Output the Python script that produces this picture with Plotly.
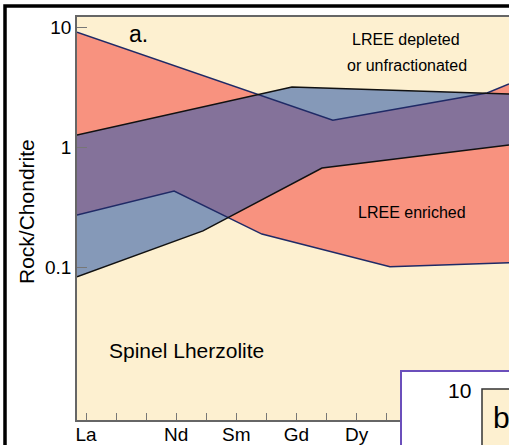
import numpy as np
import plotly.graph_objects as go

# ---- data ----
ree = ["La", "Ce", "Pr", "Nd", "Pm", "Sm", "Eu", "Gd", "Tb", "Dy", "Ho", "Er", "Tm", "Yb", "Lu"]
tick_labels = ["La", "", "", "Nd", "", "Sm", "", "Gd", "", "Dy", "", "", "", "", ""]

# LREE enriched field (red)
enr_upper_x = [-0.3, 8.21, 13.34, 14.07]
enr_upper_y = [9.2, 1.70, 2.86, 3.4]
enr_lower_x = [-0.3, 2.93, 5.85, 10.11, 14.07]
enr_lower_y = [0.275, 0.436, 0.191, 0.102, 0.110]

# LREE depleted / unfractionated field (blue)
dep_upper_x = [-0.3, 6.85, 14.07]
dep_upper_y = [1.28, 3.21, 2.81]
dep_lower_x = [-0.3, 3.03, 3.89, 7.85, 14.07]
dep_lower_y = [0.084, 0.170, 0.203, 0.679, 1.055]

CREAM = "#FDF0D0"
RED = "#F8927F"
BLUE = "#8599B8"
PURPLE = "#84729A"
NAVY = "#1F2A66"
BLACK = "#111111"


def lg(xs, ys):
    xs = np.asarray(xs, float)
    ly = np.log10(np.asarray(ys, float))
    return lambda q: np.interp(q, xs, ly)


ru, rl = lg(enr_upper_x, enr_upper_y), lg(enr_lower_x, enr_lower_y)
bu, bl = lg(dep_upper_x, dep_upper_y), lg(dep_lower_x, dep_lower_y)

# overlap of the two fields (exact piecewise-linear intersection in log space)
bps = sorted(set(enr_upper_x + enr_lower_x + dep_upper_x + dep_lower_x))
pts = list(bps)
for fa, fb in [(ru, bu), (rl, bl)]:
    for x0, x1 in zip(bps[:-1], bps[1:]):
        d0, d1 = fa(x0) - fb(x0), fa(x1) - fb(x1)
        if d0 * d1 < 0:
            pts.append(x0 + (x1 - x0) * d0 / (d0 - d1))
pts = np.array(sorted(pts))
ov_top = 10 ** np.minimum(ru(pts), bu(pts))
ov_bot = 10 ** np.maximum(rl(pts), bl(pts))

fig = go.Figure()


def band(ux, uy, lx, ly, color):
    fig.add_trace(go.Scatter(
        x=list(ux) + list(lx)[::-1], y=list(uy) + list(ly)[::-1],
        fill="toself", fillcolor=color, mode="lines", line=dict(width=0),
        hoverinfo="skip", showlegend=False))


band(dep_upper_x, dep_upper_y, dep_lower_x, dep_lower_y, BLUE)
band(enr_upper_x, enr_upper_y, enr_lower_x, enr_lower_y, RED)
band(pts, ov_top, pts, ov_bot, PURPLE)

for xs, ys, c in [(enr_upper_x, enr_upper_y, NAVY), (enr_lower_x, enr_lower_y, NAVY),
                  (dep_upper_x, dep_upper_y, BLACK), (dep_lower_x, dep_lower_y, BLACK)]:
    fig.add_trace(go.Scatter(x=xs, y=ys, mode="lines", line=dict(color=c, width=1.5),
                             hoverinfo="skip", showlegend=False))

W, H = 509, 445
L, T, R, B = 77, 17, 0, 25
pw, ph = W - L - R, H - T - B


def px(x):
    return (x - L) / pw


def py(y):
    return 1 - (y - T) / ph


FONT = "Liberation Sans, Arial, Helvetica, sans-serif"

fig.update_layout(
    width=W, height=H, margin=dict(l=L, r=R, t=T, b=B),
    paper_bgcolor="white", plot_bgcolor=CREAM,
    font=dict(family=FONT, color="black"),
    xaxis=dict(range=[-0.3, 14.07], tickvals=list(range(len(ree))), ticktext=tick_labels,
               ticks="inside", ticklen=7, tickcolor="#777", tickwidth=1.2,
               showline=True, linecolor="#666", linewidth=1.5, mirror=True,
               showgrid=False, zeroline=False, tickfont=dict(size=19), ticklabelstandoff=-4),
    yaxis=dict(type="log", range=[-2.268, 1.09], tickvals=[0.1, 1, 10], ticktext=["0.1", "1", "10"],
               ticks="inside", ticklen=10, tickcolor="#777", tickwidth=1.2,
               showline=True, linecolor="#666", linewidth=1.5,
               showgrid=False, zeroline=False, tickfont=dict(size=19), ticklabelstandoff=0),
    shapes=[
        dict(type="rect", xref="paper", yref="paper", x0=px(5), x1=px(560), y0=py(6), y1=py(520),
             line=dict(color="black", width=3.5), fillcolor="rgba(0,0,0,0)", layer="above"),
        dict(type="rect", xref="paper", yref="paper", x0=px(401), x1=px(560), y0=py(371), y1=py(520),
             line=dict(color="#6B4FBB", width=2), fillcolor="white", layer="above"),
        dict(type="rect", xref="paper", yref="paper", x0=px(482), x1=px(560), y0=py(389), y1=py(520),
             line=dict(color="#333", width=1.5), fillcolor=CREAM, layer="above"),
    ],
    annotations=[
        dict(text="Rock/Chondrite", textangle=-90, x=px(26), y=py(212), xref="paper", yref="paper",
             showarrow=False, font=dict(size=21), xanchor="center", yanchor="middle"),
        dict(text="a.", x=px(138), y=py(34), xref="paper", yref="paper", showarrow=False,
             font=dict(size=23), xanchor="center", yanchor="middle"),
        dict(text="LREE depleted", x=px(406), y=py(40), xref="paper", yref="paper", showarrow=False,
             font=dict(size=16), xanchor="center", yanchor="middle"),
        dict(text="or unfractionated", x=px(407), y=py(65), xref="paper", yref="paper", showarrow=False,
             font=dict(size=16), xanchor="center", yanchor="middle"),
        dict(text="LREE enriched", x=px(412), y=py(212), xref="paper", yref="paper", showarrow=False,
             font=dict(size=16), xanchor="center", yanchor="middle"),
        dict(text="Spinel Lherzolite", x=px(186), y=py(350), xref="paper", yref="paper", showarrow=False,
             font=dict(size=21), xanchor="center", yanchor="middle"),
        dict(text="10", x=px(459), y=py(390), xref="paper", yref="paper", showarrow=False,
             font=dict(size=21), xanchor="center", yanchor="middle"),
        dict(text="b", x=px(491), y=py(417), xref="paper", yref="paper", showarrow=False,
             font=dict(size=30), xanchor="left", yanchor="middle"),
    ],
)

fig.write_html("out.html")
